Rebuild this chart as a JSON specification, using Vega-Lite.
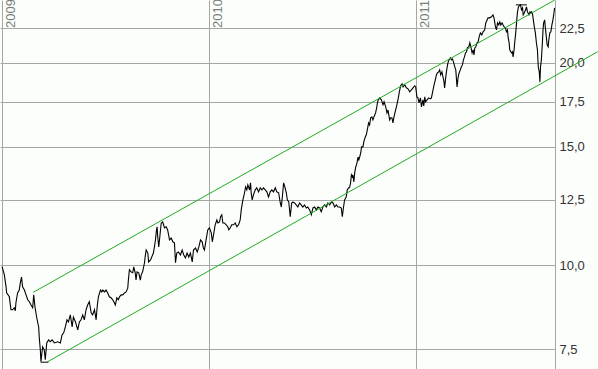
{
  "$schema": "https://vega.github.io/schema/vega-lite/v6.json",
  "width": 555,
  "height": 369,
  "autosize": {"type": "none"},
  "padding": {"left": 0, "top": 0, "right": 43, "bottom": 0},
  "background": "#fcfefc",
  "config": {"view": {"stroke": null}},
  "datasets": {
    "price": [
      {"t":2008.999,"p":9.95},{"t":2009.010,"p":9.67},{"t":2009.018,"p":9.29},{"t":2009.021,"p":9.09},{"t":2009.034,"p":8.97},{"t":2009.042,"p":8.58},{"t":2009.050,"p":8.58},{"t":2009.058,"p":8.64},{"t":2009.063,"p":8.55},{"t":2009.066,"p":8.79},{"t":2009.074,"p":9.09},{"t":2009.082,"p":9.18},{"t":2009.087,"p":9.40},{"t":2009.093,"p":9.60},{"t":2009.098,"p":9.28},{"t":2009.107,"p":9.18},{"t":2009.115,"p":9.03},{"t":2009.123,"p":8.88},{"t":2009.131,"p":8.82},{"t":2009.139,"p":8.72},{"t":2009.147,"p":8.64},{"t":2009.152,"p":9.03},{"t":2009.158,"p":8.67},{"t":2009.166,"p":8.37},{"t":2009.176,"p":8.09},{"t":2009.179,"p":7.79},{"t":2009.184,"p":7.48},{"t":2009.187,"p":7.18},{"t":2009.195,"p":7.56},{"t":2009.203,"p":7.48},{"t":2009.208,"p":7.23},{"t":2009.215,"p":7.66},{"t":2009.224,"p":7.74},{"t":2009.232,"p":7.69},{"t":2009.241,"p":7.74},{"t":2009.252,"p":7.66},{"t":2009.268,"p":7.69},{"t":2009.281,"p":7.66},{"t":2009.289,"p":7.87},{"t":2009.297,"p":7.93},{"t":2009.305,"p":8.09},{"t":2009.313,"p":8.29},{"t":2009.320,"p":8.23},{"t":2009.329,"p":8.43},{"t":2009.338,"p":8.09},{"t":2009.344,"p":8.37},{"t":2009.354,"p":8.23},{"t":2009.365,"p":8.01},{"t":2009.373,"p":8.23},{"t":2009.381,"p":8.29},{"t":2009.389,"p":8.43},{"t":2009.397,"p":8.29},{"t":2009.405,"p":8.58},{"t":2009.413,"p":8.72},{"t":2009.421,"p":8.82},{"t":2009.430,"p":8.49},{"t":2009.437,"p":8.43},{"t":2009.446,"p":8.58},{"t":2009.454,"p":8.29},{"t":2009.459,"p":8.67},{"t":2009.465,"p":8.97},
      {"t":2009.475,"p":9.18},{"t":2009.481,"p":9.12},{"t":2009.486,"p":9.18},{"t":2009.494,"p":9.12},{"t":2009.502,"p":9.18},{"t":2009.510,"p":9.09},{"t":2009.518,"p":8.97},{"t":2009.526,"p":8.94},{"t":2009.534,"p":8.88},{"t":2009.542,"p":8.79},{"t":2009.547,"p":8.72},{"t":2009.554,"p":8.94},{"t":2009.562,"p":8.88},{"t":2009.567,"p":8.97},{"t":2009.575,"p":9.03},{"t":2009.583,"p":9.03},{"t":2009.591,"p":9.09},{"t":2009.599,"p":9.12},{"t":2009.607,"p":9.24},{"t":2009.610,"p":9.50},{"t":2009.615,"p":9.84},{"t":2009.623,"p":9.77},{"t":2009.631,"p":9.74},{"t":2009.636,"p":9.94},{"t":2009.643,"p":9.74},{"t":2009.647,"p":9.50},{"t":2009.652,"p":9.77},{"t":2009.660,"p":9.74},{"t":2009.668,"p":9.50},{"t":2009.672,"p":9.67},{"t":2009.679,"p":9.77},{"t":2009.688,"p":10.08},{"t":2009.691,"p":10.28},{"t":2009.696,"p":10.53},{"t":2009.704,"p":10.42},{"t":2009.708,"p":10.11},{"t":2009.717,"p":10.18},{"t":2009.723,"p":10.28},{"t":2009.731,"p":10.42},{"t":2009.736,"p":10.64},{"t":2009.741,"p":10.90},{"t":2009.746,"p":11.28},{"t":2009.749,"p":11.40},{"t":2009.752,"p":11.01},{"t":2009.757,"p":10.64},{"t":2009.764,"p":11.17},{"t":2009.769,"p":11.55},{"t":2009.776,"p":11.59},{"t":2009.785,"p":11.36},{"t":2009.793,"p":11.40},{"t":2009.800,"p":11.28},{"t":2009.809,"p":10.90},{"t":2009.817,"p":10.97},{"t":2009.825,"p":10.83},{"t":2009.833,"p":10.79},{"t":2009.838,"p":10.08},{"t":2009.844,"p":10.42},{"t":2009.852,"p":10.46},{"t":2009.862,"p":10.35},{"t":2009.870,"p":10.53},{"t":2009.878,"p":10.35},{"t":2009.886,"p":10.25},{"t":2009.894,"p":10.42},{"t":2009.902,"p":10.28},{"t":2009.910,"p":10.42},{"t":2009.919,"p":10.11},{"t":2009.925,"p":10.53},{"t":2009.935,"p":10.60},{"t":2009.943,"p":10.46},{"t":2009.951,"p":10.64},{"t":2009.959,"p":10.90},{"t":2009.967,"p":10.83},{"t":2009.973,"p":10.60},{"t":2009.978,"p":10.53},{"t":2009.986,"p":10.90},{"t":2009.994,"p":11.28},
      {"t":2010.002,"p":11.36},{"t":2010.011,"p":11.17},{"t":2010.016,"p":10.83},{"t":2010.022,"p":11.09},{"t":2010.030,"p":11.48},{"t":2010.038,"p":11.67},{"t":2010.043,"p":11.55},{"t":2010.051,"p":11.59},{"t":2010.056,"p":11.80},{"t":2010.062,"p":11.88},{"t":2010.067,"p":11.55},{"t":2010.075,"p":11.55},{"t":2010.083,"p":11.48},{"t":2010.091,"p":11.40},{"t":2010.096,"p":11.28},{"t":2010.103,"p":11.36},{"t":2010.110,"p":11.48},{"t":2010.119,"p":11.48},{"t":2010.127,"p":11.55},{"t":2010.135,"p":11.40},{"t":2010.143,"p":11.48},{"t":2010.151,"p":11.67},{"t":2010.156,"p":12.08},{"t":2010.164,"p":12.50},{"t":2010.172,"p":12.81},{"t":2010.177,"p":13.07},{"t":2010.183,"p":12.94},{"t":2010.188,"p":13.16},{"t":2010.196,"p":12.94},{"t":2010.201,"p":13.25},{"t":2010.204,"p":12.81},{"t":2010.209,"p":12.50},{"t":2010.215,"p":12.72},{"t":2010.224,"p":12.94},{"t":2010.231,"p":13.03},{"t":2010.240,"p":12.85},{"t":2010.248,"p":13.03},{"t":2010.256,"p":12.94},{"t":2010.264,"p":13.03},{"t":2010.272,"p":12.94},{"t":2010.280,"p":12.85},{"t":2010.288,"p":12.63},{"t":2010.296,"p":12.85},{"t":2010.304,"p":12.94},{"t":2010.312,"p":12.85},{"t":2010.321,"p":13.03},{"t":2010.328,"p":12.85},{"t":2010.337,"p":12.81},{"t":2010.345,"p":12.37},{"t":2010.350,"p":12.20},{"t":2010.355,"p":12.63},{"t":2010.361,"p":13.25},{"t":2010.367,"p":13.07},{"t":2010.374,"p":12.81},{"t":2010.379,"p":12.50},{"t":2010.386,"p":12.41},{"t":2010.393,"p":11.80},{"t":2010.400,"p":12.37},{"t":2010.406,"p":12.41},{"t":2010.414,"p":12.37},{"t":2010.422,"p":12.29},{"t":2010.430,"p":12.20},{"t":2010.438,"p":12.37},
      {"t":2010.446,"p":12.29},{"t":2010.454,"p":12.20},{"t":2010.462,"p":12.29},{"t":2010.471,"p":12.16},{"t":2010.478,"p":12.20},{"t":2010.487,"p":12.08},{"t":2010.495,"p":11.88},{"t":2010.503,"p":12.16},{"t":2010.511,"p":12.20},{"t":2010.519,"p":12.08},{"t":2010.527,"p":12.20},{"t":2010.535,"p":12.16},{"t":2010.543,"p":12.00},{"t":2010.551,"p":12.20},{"t":2010.559,"p":12.29},{"t":2010.568,"p":12.20},{"t":2010.575,"p":12.37},{"t":2010.584,"p":12.29},{"t":2010.592,"p":12.41},{"t":2010.600,"p":12.37},{"t":2010.608,"p":12.20},{"t":2010.616,"p":12.29},{"t":2010.624,"p":12.20},{"t":2010.632,"p":12.20},{"t":2010.640,"p":12.16},{"t":2010.645,"p":11.80},{"t":2010.651,"p":12.20},{"t":2010.656,"p":12.50},{"t":2010.664,"p":12.63},{"t":2010.669,"p":12.94},{"t":2010.676,"p":13.03},{"t":2010.680,"p":13.03},{"t":2010.685,"p":13.25},{"t":2010.689,"p":13.62},{"t":2010.693,"p":13.53},{"t":2010.696,"p":13.62},{"t":2010.701,"p":13.30},{"t":2010.705,"p":13.71},{"t":2010.709,"p":13.95},{"t":2010.716,"p":14.19},{"t":2010.721,"p":14.48},{"t":2010.725,"p":14.34},{"t":2010.729,"p":14.48},{"t":2010.734,"p":14.68},{"t":2010.738,"p":14.99},{"t":2010.745,"p":14.99},{"t":2010.749,"p":15.25},{"t":2010.756,"p":15.51},{"t":2010.761,"p":15.62},{"t":2010.766,"p":15.89},{"t":2010.772,"p":16.27},{"t":2010.777,"p":16.16},{"t":2010.782,"p":16.56},{"t":2010.788,"p":16.61},{"t":2010.793,"p":16.44},{"t":2010.798,"p":16.61},{"t":2010.806,"p":16.84},{"t":2010.811,"p":17.13},{"t":2010.815,"p":17.43},{"t":2010.819,"p":17.61},{"t":2010.826,"p":17.73},{"t":2010.834,"p":17.61},{"t":2010.842,"p":17.31},{"t":2010.847,"p":17.49},{"t":2010.855,"p":17.19},{"t":2010.861,"p":16.84},{"t":2010.866,"p":17.01},{"t":2010.874,"p":16.44},{"t":2010.879,"p":16.56},{"t":2010.885,"p":16.56},{"t":2010.890,"p":16.27},{"t":2010.895,"p":16.61},{"t":2010.903,"p":17.01},{"t":2010.909,"p":17.31},{"t":2010.916,"p":17.73},{"t":2010.921,"p":18.10},{"t":2010.927,"p":18.48},{"t":2010.934,"p":18.60},{"t":2010.939,"p":18.41},{"t":2010.947,"p":18.54},{"t":2010.955,"p":18.35},{"t":2010.963,"p":18.29},{"t":2010.971,"p":18.10},{"t":2010.979,"p":18.22},{"t":2010.987,"p":18.35},{"t":2010.995,"p":18.48},
      {"t":2011.000,"p":18.41},{"t":2011.006,"p":17.79},{"t":2011.011,"p":17.73},{"t":2011.016,"p":17.43},{"t":2011.023,"p":17.73},{"t":2011.028,"p":17.19},{"t":2011.035,"p":17.61},{"t":2011.039,"p":17.25},{"t":2011.044,"p":17.79},{"t":2011.048,"p":17.49},{"t":2011.055,"p":17.61},{"t":2011.063,"p":17.73},{"t":2011.071,"p":17.67},{"t":2011.076,"p":17.73},{"t":2011.084,"p":18.22},{"t":2011.089,"p":18.54},{"t":2011.095,"p":18.86},{"t":2011.100,"p":19.18},{"t":2011.105,"p":19.31},{"t":2011.111,"p":19.38},{"t":2011.116,"p":19.51},{"t":2011.121,"p":19.18},{"t":2011.127,"p":19.38},{"t":2011.132,"p":19.05},{"t":2011.137,"p":18.73},{"t":2011.140,"p":18.35},{"t":2011.145,"p":18.99},{"t":2011.150,"p":19.51},{"t":2011.156,"p":19.99},{"t":2011.161,"p":20.19},{"t":2011.168,"p":20.33},{"t":2011.173,"p":20.19},{"t":2011.178,"p":20.26},{"t":2011.184,"p":19.99},{"t":2011.189,"p":19.72},{"t":2011.194,"p":19.51},{"t":2011.200,"p":18.41},{"t":2011.205,"p":18.99},{"t":2011.210,"p":19.31},{"t":2011.216,"p":19.51},{"t":2011.221,"p":19.72},{"t":2011.226,"p":19.85},{"t":2011.231,"p":20.19},{"t":2011.236,"p":20.40},{"t":2011.241,"p":20.68},{"t":2011.246,"p":20.76},{"t":2011.250,"p":21.04},{"t":2011.257,"p":21.12},{"t":2011.262,"p":21.41},{"t":2011.267,"p":21.12},{"t":2011.273,"p":20.68},{"t":2011.278,"p":20.90},{"t":2011.282,"p":20.54},{"t":2011.286,"p":21.04},{"t":2011.291,"p":21.12},{"t":2011.297,"p":21.41},{"t":2011.302,"p":21.48},{"t":2011.307,"p":21.85},{"t":2011.313,"p":22.15},{"t":2011.320,"p":22.00},{"t":2011.326,"p":22.23},{"t":2011.334,"p":22.38},{"t":2011.339,"p":22.92},{"t":2011.346,"p":23.16},{"t":2011.350,"p":23.32},{"t":2011.358,"p":23.32},{"t":2011.367,"p":23.40},{"t":2011.374,"p":23.56},{"t":2011.379,"p":23.32},{"t":2011.386,"p":22.61},{"t":2011.391,"p":22.38},{"t":2011.396,"p":22.92},{"t":2011.402,"p":22.76},{"t":2011.407,"p":23.00},{"t":2011.412,"p":22.76},{"t":2011.418,"p":22.92},{"t":2011.423,"p":22.76},{"t":2011.428,"p":22.61},{"t":2011.434,"p":22.53},{"t":2011.439,"p":22.23},{"t":2011.444,"p":22.38},{"t":2011.447,"p":21.85},{"t":2011.452,"p":21.41},{"t":2011.455,"p":20.90},{"t":2011.463,"p":20.68},{"t":2011.468,"p":20.76},{"t":2011.471,"p":20.40},{"t":2011.476,"p":20.90},{"t":2011.479,"p":21.41},{"t":2011.484,"p":22.15},{"t":2011.488,"p":22.92},{"t":2011.492,"p":23.72},{"t":2011.496,"p":24.13},{"t":2011.500,"p":24.30},{"t":2011.507,"p":24.38},{"t":2011.512,"p":23.97},{"t":2011.517,"p":24.13},{"t":2011.520,"p":23.56},{"t":2011.525,"p":23.72},{"t":2011.532,"p":23.97},{"t":2011.536,"p":24.22},{"t":2011.541,"p":23.80},{"t":2011.548,"p":23.56},{"t":2011.553,"p":23.80},{"t":2011.557,"p":23.72},{"t":2011.561,"p":23.80},{"t":2011.566,"p":23.56},{"t":2011.569,"p":23.16},{"t":2011.574,"p":22.61},{"t":2011.579,"p":22.15},{"t":2011.584,"p":21.41},{"t":2011.589,"p":20.90},{"t":2011.593,"p":19.72},{"t":2011.598,"p":19.38},{"t":2011.601,"p":18.73},{"t":2011.604,"p":19.72},{"t":2011.608,"p":20.19},{"t":2011.613,"p":21.41},{"t":2011.616,"p":22.38},{"t":2011.619,"p":22.92},{"t":2011.624,"p":23.16},{"t":2011.627,"p":22.61},{"t":2011.632,"p":21.85},{"t":2011.636,"p":21.26},{"t":2011.641,"p":21.12},{"t":2011.644,"p":21.62},{"t":2011.649,"p":22.15},{"t":2011.654,"p":22.23},{"t":2011.659,"p":22.76},{"t":2011.664,"p":23.16},{"t":2011.669,"p":23.72},{"t":2011.672,"p":24.13}
    ],
    "channel": [
      {"line": "upper", "t": 2009.150, "p": 9.11},
      {"line": "upper", "t": 2011.673, "p": 24.79},
      {"line": "lower", "t": 2009.219, "p": 7.18},
      {"line": "lower", "t": 2011.881, "p": 20.77}
    ],
    "extremes": [
      {"t1": 2009.186, "t2": 2009.223, "p": 7.17},
      {"t1": 2011.485, "t2": 2011.538, "p": 24.38}
    ]
  },
  "layer": [
    {
      "data": {"name": "price"},
      "mark": {"type": "line", "color": "#000000", "strokeWidth": 1.1, "clip": true},
      "encoding": {
        "x": {
          "field": "t", "type": "quantitative", "title": null,
          "scale": {"domain": [2008.9889, 2011.674], "nice": false, "zero": false},
          "axis": {
            "orient": "top", "values": [2009, 2010, 2011], "format": "d", "title": null,
            "domain": false, "ticks": false, "tickSize": 0, "grid": true,
            "gridColor": "#a4a8a4", "gridOpacity": 1, "gridWidth": 1,
            "labelAngle": 270, "labelAlign": "left", "labelBaseline": "top",
            "labelPadding": -27.5, "labelOffset": 2.5, "labelFont": "Liberation Sans",
            "labelFontSize": 13, "labelColor": "#7a7e7a", "labelFlush": false, "labelOverlap": false
          }
        },
        "y": {
          "field": "p", "type": "quantitative", "title": null,
          "scale": {"type": "log", "domain": [7.005, 24.79], "nice": false, "zero": false},
          "axis": {
            "orient": "right", "values": [7.5, 10, 12.5, 15, 17.5, 20, 22.5],
            "labelExpr": "replace(format(datum.value, '.1f'), '.', ',')", "title": null,
            "domain": true, "domainColor": "#a4a8a4", "ticks": false, "tickSize": 0,
            "grid": true, "gridColor": "#a4a8a4", "gridOpacity": 1, "gridWidth": 1,
            "labelPadding": 4, "labelFont": "Liberation Sans", "labelFontSize": 13,
            "labelColor": "#333333", "labelBaseline": "middle", "labelFlush": false, "labelOverlap": false
          }
        }
      }
    },
    {
      "data": {"name": "channel"},
      "mark": {"type": "line", "color": "#22aa22", "strokeWidth": 1, "clip": false},
      "encoding": {
        "x": {"field": "t", "type": "quantitative", "title": null},
        "y": {"field": "p", "type": "quantitative", "title": null},
        "detail": {"field": "line"}
      }
    },
    {
      "data": {"name": "extremes"},
      "mark": {"type": "rule", "color": "#000000", "strokeWidth": 1},
      "encoding": {
        "x": {"field": "t1", "type": "quantitative", "title": null},
        "x2": {"field": "t2"},
        "y": {"field": "p", "type": "quantitative", "title": null}
      }
    }
  ]
}
